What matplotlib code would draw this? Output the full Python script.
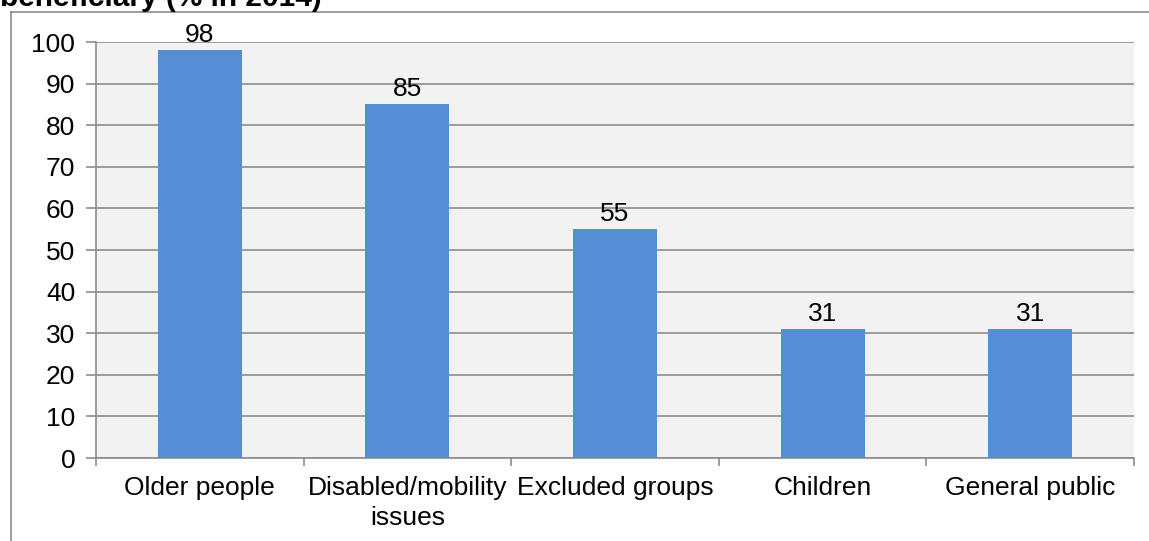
import matplotlib
matplotlib.use("Agg")
import matplotlib.pyplot as plt
from matplotlib.lines import Line2D
import numpy as np

categories = ["Older people", "Disabled/mobility\nissues", "Excluded groups", "Children", "General public"]
values = [98, 85, 55, 31, 31]
title = "beneficiary (% in 2014)"

plt.rcParams["font.family"] = ["Liberation Sans", "DejaVu Sans"]

W, H = 1149, 541
fig = plt.figure(figsize=(W / 100, H / 100), dpi=100)
ax = fig.add_axes([96 / W, 1 - 458 / H, (1134 - 96) / W, (458 - 42) / H])

# outer chart border (clipped at right and bottom)
fig.add_artist(Line2D([11 / W, 1], [1 - 12 / H, 1 - 12 / H], color="#8c8c8c", lw=1.2))
fig.add_artist(Line2D([11 / W, 11 / W], [0, 1 - 12 / H], color="#8c8c8c", lw=1.2))

# title, partially cut off at top
fig.text(0, 1 - 6 / H, title, fontsize=21.5, fontweight="bold", ha="left", va="baseline")

ax.set_facecolor("#f2f2f2")
x = np.arange(len(categories))
ax.bar(x, values, width=0.405, color="#558ed5", zorder=3)
for xi, v in zip(x, values):
    ax.text(xi, v + 0.8, str(v), ha="center", va="bottom", fontsize=19)

ax.set_xlim(-0.5, len(categories) - 0.5)
ax.set_ylim(0, 100)
ax.set_yticks(np.arange(0, 101, 10))
ax.yaxis.grid(True, color="#8c8c8c", lw=1.2, zorder=1)
ax.set_xticks(x)
ax.set_xticklabels(categories, fontsize=19, linespacing=1.3)
ax.tick_params(axis="x", length=0, pad=13)
ax.set_xticks(np.arange(-0.5, len(categories), 1), minor=True)
ax.tick_params(axis="x", which="minor", length=6, width=1.2, color="#8c8c8c")
ax.tick_params(axis="y", length=7, width=1.2, color="#8c8c8c", labelsize=19, pad=8)

for s in ["top", "right"]:
    ax.spines[s].set_visible(False)
for s in ["left", "bottom"]:
    ax.spines[s].set_color("#8c8c8c")
    ax.spines[s].set_linewidth(1.2)

fig.savefig("out.png", dpi=100)
